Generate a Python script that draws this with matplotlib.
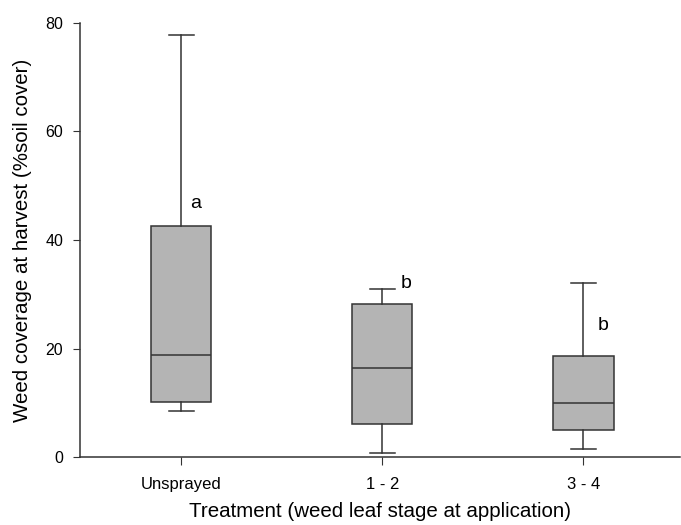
import matplotlib.pyplot as plt

plt.rcParams['font.family'] = ['Liberation Sans', 'DejaVu Sans']

# summary statistics per treatment
treatments = ['Unsprayed', '1 - 2', '3 - 4']
whisker_low = [8.6, 0.8, 1.5]
q1 = [10.1, 6.1, 5.0]
median = [18.8, 16.4, 10.0]
q3 = [42.5, 28.2, 18.7]
whisker_high = [77.7, 31.0, 32.0]
letters = ['a', 'b', 'b']
letter_y = [46.7, 32.0, 24.2]
letter_dx = [0.07, 0.12, 0.10]

stats = []
for i, name in enumerate(treatments):
    stats.append({'label': name, 'whislo': whisker_low[i], 'q1': q1[i],
                  'med': median[i], 'q3': q3[i], 'whishi': whisker_high[i],
                  'fliers': []})

fig = plt.figure(figsize=(6.81, 5.25), dpi=100)
ax = fig.add_axes([80 / 681, 67.7 / 525, 600 / 681, 434.6 / 525])

line_col = '#333333'
ax.bxp(stats, positions=range(len(treatments)), widths=0.3, patch_artist=True,
       showfliers=False,
       boxprops=dict(facecolor='#b4b4b4', edgecolor=line_col, linewidth=1.1),
       medianprops=dict(color=line_col, linewidth=1.1),
       whiskerprops=dict(color=line_col, linewidth=1.1),
       capprops=dict(color=line_col, linewidth=1.1),
       capwidths=0.125)

for i, lab in enumerate(letters):
    ax.text(i + letter_dx[i], letter_y[i], lab, fontsize=14, ha='center', va='center')

ax.set_xlim(-0.5025, 2.48)
ax.set_ylim(0, 80)
ax.set_yticks([0, 20, 40, 60, 80])
ax.set_xticks(range(len(treatments)))
ax.set_xticklabels(treatments, fontsize=12)
ax.tick_params(axis='y', labelsize=11.5, length=5, direction='out', color=line_col, pad=7)
ax.tick_params(axis='x', length=6, direction='out', color=line_col, pad=8)
for s in ['top', 'right']:
    ax.spines[s].set_visible(False)
for s in ['left', 'bottom']:
    ax.spines[s].set_color(line_col)
    ax.spines[s].set_linewidth(1.1)

ax.set_ylabel('Weed coverage at harvest (%soil cover)', fontsize=14.8)
ax.yaxis.set_label_coords(-0.08, 0.5)
ax.set_xlabel('Treatment (weed leaf stage at application)', fontsize=14.8)
ax.xaxis.set_label_coords(0.5, -0.102)

fig.savefig('out.png', dpi=100)
